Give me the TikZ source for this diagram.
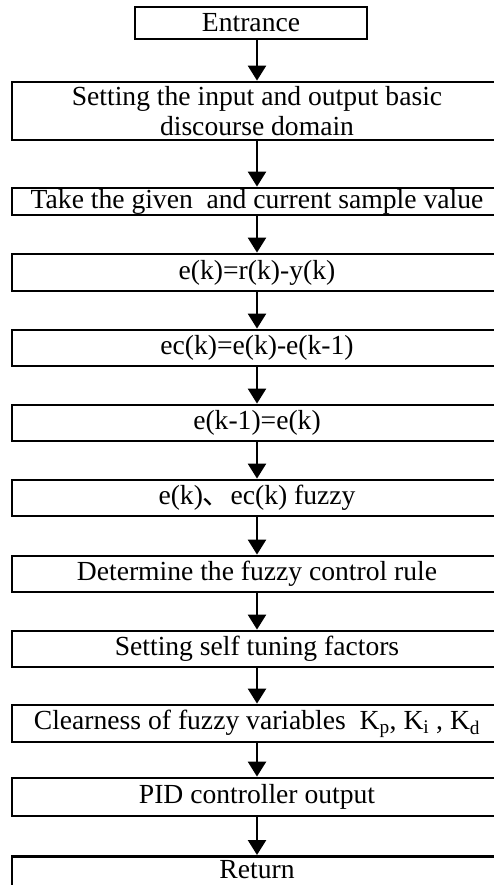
\documentclass[tikz,border=0pt]{standalone}
\usepackage{fontspec}
\setmainfont{Liberation Serif}
\newfontfamily\cjkfont{Noto Sans CJK SC}
\usetikzlibrary{arrows.meta}
\begin{document}
\begin{tikzpicture}[x=1pt,y=-1pt,
  box/.style={draw,line width=2.8pt,inner sep=0pt,align=center,minimum width=490pt,
    font=\fontsize{27.6}{30}\selectfont},
  arr/.style={line width=2.5pt,-{Triangle[width=18pt,length=15pt]}}]
\clip (0,0) rectangle (494,885);
\node[box,minimum width=232pt,minimum height=32pt] (n1) at (251,23) {Entrance};
\node[box,minimum height=58pt] (n2) at (257,111) {Setting the input and output basic\\discourse domain};
\node[box,minimum height=27pt] (n3) at (257,201.5) {Take the given\ \ and current sample value};
\node[box,minimum height=37pt] (n4) at (257,272.5) {e(k)=r(k)-y(k)};
\node[box,minimum height=36pt] (n5) at (257,348) {ec(k)=e(k)-e(k-1)};
\node[box,minimum height=36pt] (n6) at (257,423) {e(k-1)=e(k)};
\node[box,minimum height=36pt] (n7) at (257,498) {e(k){\cjkfont 、}ec(k) fuzzy};
\node[box,minimum height=36pt] (n8) at (257,574) {Determine the fuzzy control rule};
\node[box,minimum height=36pt] (n9) at (257,649) {Setting self tuning factors};
\node[box,minimum height=37pt] (n10) at (257,723.5) {Clearness of fuzzy variables\ \ K\textsubscript{p}, K\textsubscript{i} , K\textsubscript{d}};
\node[box,minimum height=38pt] (n11) at (257,797) {PID controller output};
\node[box,minimum height=60pt,anchor=north,text height=20pt,text depth=36pt] (n12) at (257,855) {Return};
\draw[arr] (n1.south -| n2.north) -- (n2.north);
\draw[arr] (n2.south) -- (n3.north);
\draw[arr] (n3.south) -- (n4.north);
\draw[arr] (n4.south) -- (n5.north);
\draw[arr] (n5.south) -- (n6.north);
\draw[arr] (n6.south) -- (n7.north);
\draw[arr] (n7.south) -- (n8.north);
\draw[arr] (n8.south) -- (n9.north);
\draw[arr] (n9.south) -- (n10.north);
\draw[arr] (n10.south) -- (n11.north);
\draw[arr] (n11.south) -- (n12.north);
\end{tikzpicture}
\end{document}
